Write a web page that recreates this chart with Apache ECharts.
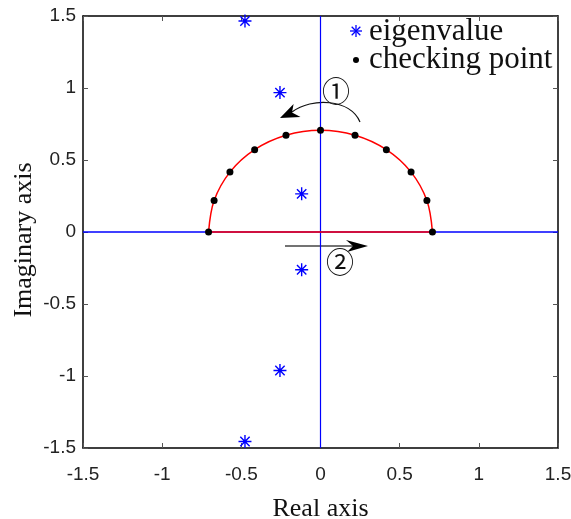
<!DOCTYPE html>
<html>
<head>
<meta charset="utf-8">
<script src="https://cdn.jsdelivr.net/npm/echarts@6/dist/echarts.min.js"></script>
<style>
  html, body { margin: 0; padding: 0; background: #fff; }
  #chart { width: 571px; height: 519px; }
</style>
</head>
<body>
<div id="chart"></div>
<script>
// Eigenvalues of the closed-loop system (real / imaginary parts)
var eigReal = [-0.477, -0.256, -0.119, -0.119, -0.256, -0.477];
var eigImag = [1.465, 0.968, 0.265, -0.262, -0.962, -1.455];

// Checking points along the upper half-circle contour
var chkReal = [-0.707, -0.672, -0.572, -0.416, -0.218, 0, 0.218, 0.416, 0.572, 0.672, 0.707];
var chkImag = [0, 0.218, 0.416, 0.572, 0.672, 0.707, 0.672, 0.572, 0.416, 0.218, 0];

// Axis ticks
var tickValues = [-1.5, -1, -0.5, 0, 0.5, 1, 1.5];
var axisMin = -1.5, axisMax = 1.5, axisStep = 0.5;

var eigData = eigReal.map(function (r, i) { return [r, eigImag[i]]; });
var chkData = chkReal.map(function (r, i) { return [r, chkImag[i]]; });
var baseData = [[chkReal[0], chkImag[0]], [chkReal[chkReal.length - 1], chkImag[chkImag.length - 1]]];

var STAR = 'path://M0,-1L0,1M-1,0L1,0M-0.72,-0.72L0.72,0.72M-0.72,0.72L0.72,-0.72';
var sansFont = '"Liberation Sans", Arial, sans-serif';
var serifFont = '"Liberation Serif", "Times New Roman", serif';
var circFont = '"Noto Sans CJK SC", "DejaVu Sans", sans-serif';
var BLUE = '#0000ff';

function frameAxis(pos, showLabel) {
  return {
    type: 'value',
    position: pos,
    min: axisMin, max: axisMax, interval: axisStep,
    splitLine: { show: false },
    axisLine: { show: true, onZero: false, lineStyle: { color: '#000', width: 1.5 } },
    axisTick: { show: true, inside: true, length: 5, lineStyle: { color: '#555', width: 1 } },
    axisLabel: { show: showLabel }
  };
}

var xBottom = frameAxis('bottom', true);
xBottom.axisLabel = { show: true, margin: 17, color: '#222', fontFamily: sansFont, fontSize: 19,
  formatter: function (v) { return tickValues.indexOf(v) >= 0 ? String(v) : ''; } };
xBottom.name = 'Real axis';
xBottom.nameLocation = 'middle';
xBottom.nameGap = 48;
xBottom.nameTextStyle = { fontFamily: serifFont, fontSize: 26, color: '#111' };

var yLeft = frameAxis('left', true);
yLeft.axisLabel = { show: true, margin: 7, color: '#222', fontFamily: sansFont, fontSize: 19,
  formatter: function (v) { return tickValues.indexOf(v) >= 0 ? String(v) : ''; } };

// small asterisk legend icon built from four strokes
function starIcon(cx, cy, r) {
  var d = r * 0.72;
  var segs = [[0, -r, 0, r], [-r, 0, r, 0], [-d, -d, d, d], [-d, d, d, -d]];
  return segs.map(function (s) {
    return { type: 'line', shape: { x1: cx + s[0], y1: cy + s[1], x2: cx + s[2], y2: cy + s[3] },
      style: { stroke: BLUE, lineWidth: 1.3 } };
  });
}

var chart = echarts.init(document.getElementById('chart'), null, { renderer: 'canvas' });

var graphics = [
  // y-axis title
  { type: 'text', x: 24, y: 240, rotation: Math.PI / 2,
    style: { text: 'Imaginary axis', font: '26px ' + serifFont, fill: '#111', align: 'center', verticalAlign: 'middle' } },
  // legend
  { type: 'text', x: 369, y: 32, style: { text: 'eigenvalue', font: '31px ' + serifFont, fill: '#111', verticalAlign: 'middle' } },
  { type: 'circle', shape: { cx: 356, cy: 60, r: 3 }, style: { fill: '#000' } },
  { type: 'text', x: 369, y: 60, style: { text: 'checking point', font: '31px ' + serifFont, fill: '#111', verticalAlign: 'middle' } },
  // direction arrow 1 (counter-clockwise along the arc)
  { type: 'bezierCurve', shape: { x1: 360, y1: 122, cpx1: 350, cpy1: 99, cpx2: 312, cpy2: 97, x2: 292, y2: 112 },
    style: { stroke: '#111', lineWidth: 1.2, fill: 'none' } },
  { type: 'polygon', shape: { points: [[280, 118], [293.6, 104], [292, 112.5], [300.5, 117]] }, style: { fill: '#000' } },
  { type: 'text', x: 336, y: 91, style: { text: '①', font: '28px ' + circFont, fill: '#111', align: 'center', verticalAlign: 'middle' } },
  // direction arrow 2 (along the real axis)
  { type: 'line', shape: { x1: 285, y1: 246, x2: 356, y2: 246 }, style: { stroke: '#444', lineWidth: 1.5 } },
  { type: 'polygon', shape: { points: [[368, 246], [346, 240], [353, 246], [347, 252]] }, style: { fill: '#000' } },
  { type: 'text', x: 340, y: 262, style: { text: '②', font: '28px ' + circFont, fill: '#111', align: 'center', verticalAlign: 'middle' } }
].concat(starIcon(356, 31, 6));

chart.setOption({
  backgroundColor: '#fff',
  animation: false,
  grid: { left: 83, right: 13, top: 16, bottom: 71, outerBoundsMode: 'none', containLabel: false },
  xAxis: [xBottom, frameAxis('top', false)],
  yAxis: [yLeft, frameAxis('right', false)],
  series: [
    {
      name: 'real axis line', type: 'line', xAxisIndex: 0, yAxisIndex: 0,
      data: [[axisMin, 0], [axisMax, 0]], symbol: 'none',
      lineStyle: { color: BLUE, width: 1.5 }, z: 1
    },
    {
      name: 'imaginary axis line', type: 'line', xAxisIndex: 0, yAxisIndex: 0,
      data: [[0, axisMin], [0, axisMax]], symbol: 'none',
      lineStyle: { color: BLUE, width: 1.2 }, z: 1
    },
    {
      name: 'contour base', type: 'line', data: baseData, symbol: 'none',
      lineStyle: { color: '#ff0000', width: 1.5 }, z: 2
    },
    {
      name: 'contour arc', type: 'line', data: chkData, symbol: 'none', smooth: 0.35,
      lineStyle: { color: '#ff0000', width: 1.5 }, z: 2
    },
    {
      name: 'checking point', type: 'scatter', data: chkData,
      symbol: 'circle', symbolSize: 7,
      itemStyle: { color: '#000', opacity: 1 }, z: 3
    },
    {
      name: 'eigenvalue', type: 'scatter', data: eigData,
      symbol: STAR, symbolSize: 13,
      itemStyle: { color: 'none', borderColor: BLUE, borderWidth: 1.4, opacity: 1 }, z: 3
    }
  ],
  graphic: graphics
});
</script>
</body>
</html>
